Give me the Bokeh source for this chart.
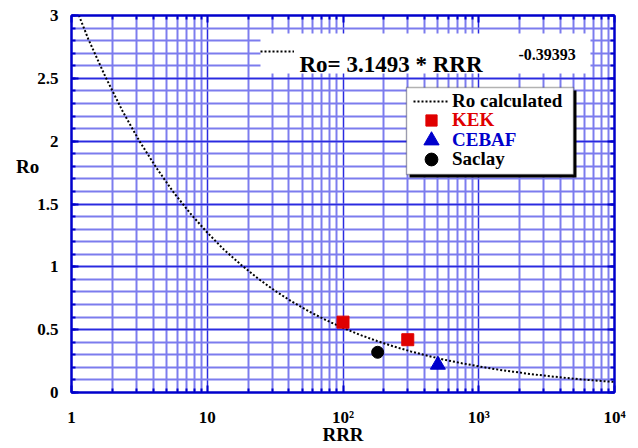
from bokeh.plotting import figure
from bokeh.models import (FixedTicker, LinearAxis, LogAxis, Legend, LegendItem,
                          BoxAnnotation, Label, CustomJSTickFormatter, Range1d)
from bokeh.embed import file_html
from bokeh.resources import INLINE
from bokeh.core.properties import value

# ---- data ----
rrr_fit = [1, 1.33, 1.78, 2.37, 3.16, 4.22, 5.62, 7.5, 10, 13.3, 17.8, 23.7, 31.6,
           42.2, 56.2, 75, 100, 133, 178, 237, 316, 422, 562, 750, 1000, 1330,
           1780, 2370, 3160, 4220, 5620, 7500, 10000]
ro_fit = [3.149, 2.812, 2.511, 2.242, 2.002, 1.788, 1.596, 1.425, 1.273, 1.136,
          1.015, 0.906, 0.809, 0.722, 0.645, 0.576, 0.514, 0.459, 0.410, 0.366,
          0.327, 0.292, 0.260, 0.233, 0.208, 0.185, 0.166, 0.148, 0.132, 0.118,
          0.105, 0.094, 0.084]
kek_rrr = [100, 300]
kek_ro = [0.56, 0.42]
cebaf_rrr = [500]
cebaf_ro = [0.22]
saclay_rrr = [180]
saclay_ro = [0.32]

x_ticks = [1, 10, 100, 1000, 10000]
x_tick_labels = ["1", "10", "10\u00b2", "10\u00b3", "10\u2074"]
y_ticks = [0, 0.5, 1, 1.5, 2, 2.5, 3]
y_tick_labels = ["0", "0.5", "1", "1.5", "2", "2.5", "3"]
x_title = "RRR"
y_title = "Ro"
fit_label = "Ro= 3.1493 * RRR"
fit_exponent = "-0.39393"
series_names = ["Ro calculated", "KEK", "CEBAF", "Saclay"]

FONT = "Liberation Serif"
BLUE = "#0000cc"
RED = "#e00000"

x_minor = [m * 10 ** e for e in range(4) for m in range(2, 10)]
y_minor = [i / 10 for i in range(31)]

p = figure(width=638, height=448, x_axis_type="log",
           x_range=Range1d(1, 10000), y_range=Range1d(0, 3),
           output_backend="svg", toolbar_location=None,
           min_border_left=71, min_border_right=24,
           min_border_top=15, min_border_bottom=56)
p.background_fill_color = "white"
p.border_fill_color = "white"
p.outline_line_color = BLUE
p.outline_line_width = 2


def style_axis(ax, maj_in, min_in):
    ax.axis_line_color = BLUE
    ax.axis_line_width = 2
    ax.major_tick_line_color = BLUE
    ax.major_tick_line_width = 2
    ax.minor_tick_line_color = BLUE
    ax.minor_tick_line_width = 2
    ax.major_tick_in = maj_in
    ax.major_tick_out = 0
    ax.minor_tick_in = min_in
    ax.minor_tick_out = 0
    ax.major_label_text_font = FONT
    ax.major_label_text_font_style = "bold"
    ax.major_label_text_font_size = "17px"
    ax.major_label_text_color = "black"
    ax.axis_label_text_font = FONT
    ax.axis_label_text_font_style = "bold"
    ax.axis_label_text_font_size = "19px"
    ax.axis_label_text_color = "black"


xt = FixedTicker(ticks=x_ticks, minor_ticks=x_minor)
yt = FixedTicker(ticks=y_ticks, minor_ticks=y_minor)

xa = p.xaxis[0]
xa.ticker = xt
style_axis(xa, 7, 4)
xa.major_label_overrides = dict(zip(x_ticks, x_tick_labels))
xa.major_label_standoff = 15
xa.axis_label = x_title
xa.axis_label_standoff = -6

ya = p.yaxis[0]
ya.ticker = yt
style_axis(ya, 7, 4)
ya.major_label_overrides = dict(zip(y_ticks, y_tick_labels))
ya.major_label_standoff = 13
# title sits above the middle of the axis, as in the original: pad with blank lines
ya.axis_label = y_title + "\n\u00a0\n\u00a0\n\u00a0"
ya.axis_label_orientation = "horizontal"
ya.axis_label_standoff = -5

blank = CustomJSTickFormatter(code="return ''")
top_ax = LogAxis(ticker=FixedTicker(ticks=x_ticks, minor_ticks=x_minor), formatter=blank)
style_axis(top_ax, 7, 4)
top_ax.major_label_standoff = 0
top_ax.major_label_text_font_size = "0px"
p.add_layout(top_ax, "above")

right_ax = LinearAxis(ticker=FixedTicker(ticks=y_ticks, minor_ticks=y_minor), formatter=blank)
style_axis(right_ax, 7, 4)
right_ax.major_label_standoff = 0
right_ax.major_label_text_font_size = "0px"
p.add_layout(right_ax, "right")

for g, t in ((p.xgrid[0], xt), (p.ygrid[0], yt)):
    g.ticker = t
    g.grid_line_color = "#2a2ae0"
    g.grid_line_width = 1.5
    g.grid_line_alpha = 1
    g.minor_grid_line_color = "#7c7cee"
    g.minor_grid_line_width = 2
    g.minor_grid_line_alpha = 1

# ---- data renderers ----
r_fit = p.line(rrr_fit, ro_fit, line_color="black", line_width=2, line_dash="2 2")
r_kek = p.scatter(kek_rrr, kek_ro, marker="square", size=12, color=RED)
r_cebaf = p.scatter(cebaf_rrr, cebaf_ro, marker="triangle", size=15, color=BLUE)
r_saclay = p.scatter(saclay_rrr, saclay_ro, marker="circle", size=12, color="black")

# ---- equation box ----
p.add_layout(BoxAnnotation(left=24.67, right=6653, bottom=2.538, top=2.856,
                           fill_color="white", fill_alpha=1, line_color=None))
# ---- legend boxes (shadow + white frame) ----
p.add_layout(BoxAnnotation(left=309, right=5248, bottom=1.7104, top=2.4025,
                           fill_color="black", fill_alpha=1, line_color=None))
p.add_layout(BoxAnnotation(left=293.6, right=4989, bottom=1.7343, top=2.4264,
                           fill_color="white", fill_alpha=1, line_color="black",
                           line_width=1.5))


def mk_legend(renderer, label, color, loc, gw, gh, standoff, fs="19px"):
    lg = Legend(items=[LegendItem(label=value(label), renderers=[renderer])],
                location=loc, orientation="vertical", padding=0, margin=0,
                spacing=0, border_line_alpha=0, background_fill_alpha=0,
                label_text_font=FONT, label_text_font_style="bold",
                label_text_font_size=fs, label_text_color=color,
                glyph_width=gw, glyph_height=gh, label_height=gh,
                label_standoff=standoff)
    p.add_layout(lg, "center")


mk_legend(r_fit, " ", "black", (189, 329), 34, 24, 0, fs="10px")
mk_legend(r_fit, series_names[0], "black", (342, 279), 35, 24, 4)
mk_legend(r_kek, series_names[1], RED, (346, 258), 28, 28, 7)
mk_legend(r_cebaf, series_names[2], BLUE, (341, 233), 38, 38, 2)
mk_legend(r_saclay, series_names[3], "black", (344, 217), 32, 32, 5)

p.add_layout(Label(x=47.8, y=2.609, text=fit_label, text_font=FONT,
                   text_font_style="bold", text_font_size="23px",
                   text_baseline="alphabetic", text_align="left", text_color="black"))
p.add_layout(Label(x=1963, y=2.689, text=fit_exponent, text_font=FONT,
                   text_font_style="bold", text_font_size="16px",
                   text_baseline="alphabetic", text_align="left", text_color="black"))

open("out.html", "w").write(file_html(p, INLINE))
